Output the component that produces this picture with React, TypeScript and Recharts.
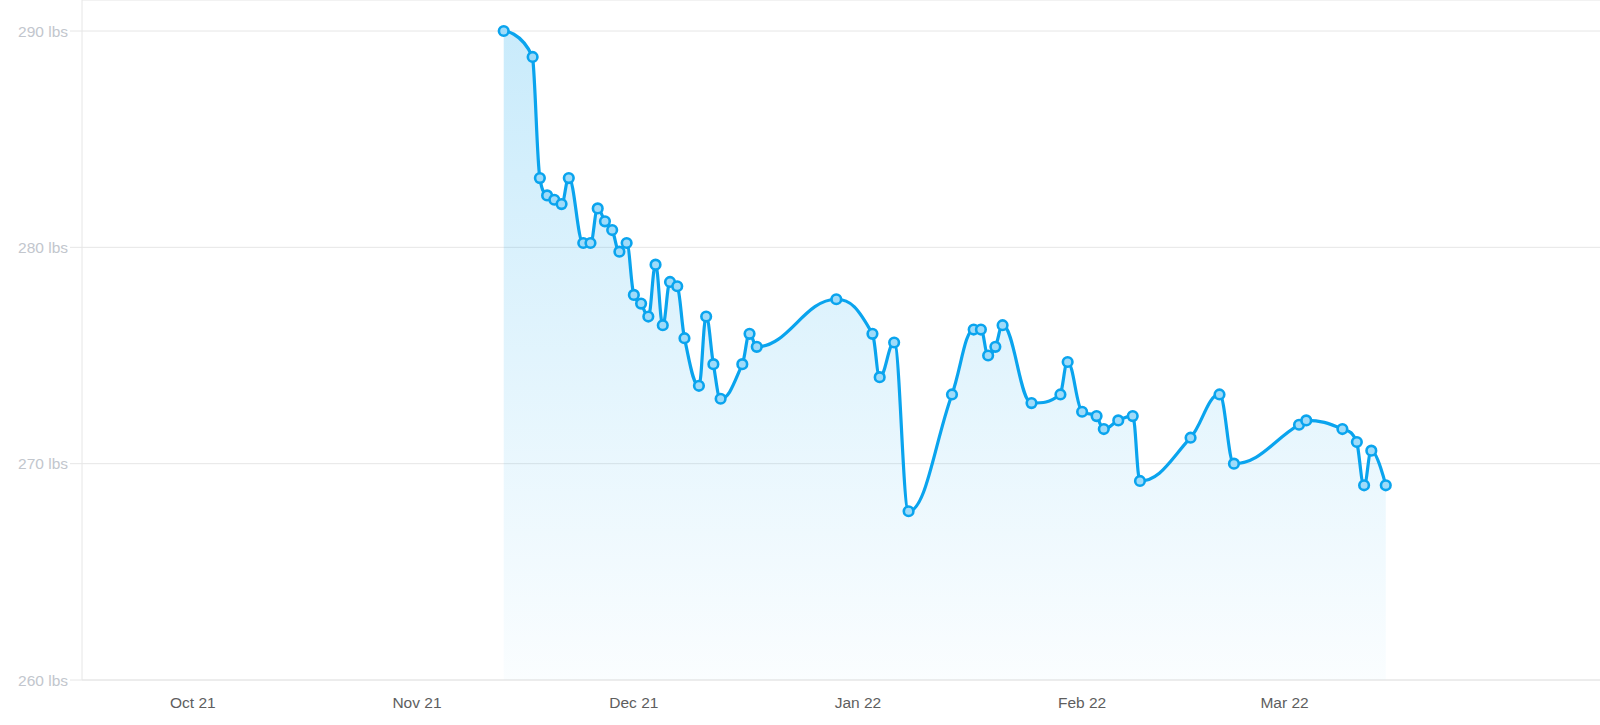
import React from "react";
import { AreaChart, Area, XAxis, YAxis, CartesianGrid } from "recharts";

// ---- data ----
const dates: string[] = [
  "2021-11-13", "2021-11-17", "2021-11-18", "2021-11-19", "2021-11-20", "2021-11-21", "2021-11-22",
  "2021-11-24", "2021-11-25", "2021-11-26", "2021-11-27", "2021-11-28", "2021-11-29", "2021-11-30",
  "2021-12-01", "2021-12-02", "2021-12-03", "2021-12-04", "2021-12-05", "2021-12-06", "2021-12-07",
  "2021-12-08", "2021-12-10", "2021-12-11", "2021-12-12", "2021-12-13", "2021-12-16", "2021-12-17",
  "2021-12-18", "2021-12-29", "2022-01-03", "2022-01-04", "2022-01-06", "2022-01-08", "2022-01-14",
  "2022-01-17", "2022-01-18", "2022-01-19", "2022-01-20", "2022-01-21", "2022-01-25", "2022-01-29",
  "2022-01-30", "2022-02-01", "2022-02-03", "2022-02-04", "2022-02-06", "2022-02-08", "2022-02-09",
  "2022-02-16", "2022-02-20", "2022-02-22", "2022-03-03", "2022-03-04", "2022-03-09", "2022-03-11",
  "2022-03-12", "2022-03-13", "2022-03-15",
];

const weights: number[] = [
  290.0, 288.8, 283.2, 282.4, 282.2, 282.0, 283.2,
  280.2, 280.2, 281.8, 281.2, 280.8, 279.8, 280.2,
  277.8, 277.4, 276.8, 279.2, 276.4, 278.4, 278.2,
  275.8, 273.6, 276.8, 274.6, 273.0, 274.6, 276.0,
  275.4, 277.6, 276.0, 274.0, 275.6, 267.8, 273.2,
  276.2, 276.2, 275.0, 275.4, 276.4, 272.8, 273.2,
  274.7, 272.4, 272.2, 271.6, 272.0, 272.2, 269.2,
  271.2, 273.2, 270.0, 271.8, 272.0, 271.6, 271.0,
  269.0, 270.6, 269.0,
];

const xTickDates: string[] = ["2021-10-01", "2021-11-01", "2021-12-01", "2022-01-01", "2022-02-01", "2022-03-01"];
const xTickLabels: string[] = ["Oct 21", "Nov 21", "Dec 21", "Jan 22", "Feb 22", "Mar 22"];
const yTicks: number[] = [260, 270, 280, 290];

// ---- helpers ----
const DAY = 86400000;
const toTs = (s: string) => {
  const [y, m, d] = s.split("-").map(Number);
  return Date.UTC(y, m - 1, d);
};

const chartData = dates.map((d, i) => ({ t: toTs(d), w: weights[i] }));
const xTicks = xTickDates.map(toTs);
const xStart = toTs("2021-10-01") - 15.33 * DAY;
const xEnd = toTs("2021-10-01") + 194.63 * DAY;

// Highcharts-style spline curve factory
function hcSpline(context: any) {
  let xs: number[] = [];
  let ys: number[] = [];
  let line: number = NaN;
  return {
    areaStart() {
      line = 0;
    },
    areaEnd() {
      line = NaN;
    },
    lineStart() {
      xs = [];
      ys = [];
    },
    lineEnd() {
      const n = xs.length;
      if (n) {
        if (line) context.lineTo(xs[0], ys[0]);
        else context.moveTo(xs[0], ys[0]);
        const lc: number[][] = [];
        const rc: number[][] = [];
        const smoothing = 1.5;
        const denom = smoothing + 1;
        for (let i = 0; i < n; i++) {
          const px = xs[i];
          const py = ys[i];
          if (i > 0 && i < n - 1) {
            const lastX = xs[i - 1], lastY = ys[i - 1], nextX = xs[i + 1], nextY = ys[i + 1];
            const leftContX = (smoothing * px + lastX) / denom;
            let leftContY = (smoothing * py + lastY) / denom;
            const rightContX = (smoothing * px + nextX) / denom;
            let rightContY = (smoothing * py + nextY) / denom;
            let correction = 0;
            if (rightContX !== leftContX) {
              correction = ((rightContY - leftContY) * (rightContX - px)) / (rightContX - leftContX) + py - rightContY;
            }
            leftContY += correction;
            rightContY += correction;
            if (leftContY > lastY && leftContY > py) {
              leftContY = Math.max(lastY, py);
              rightContY = 2 * py - leftContY;
            } else if (leftContY < lastY && leftContY < py) {
              leftContY = Math.min(lastY, py);
              rightContY = 2 * py - leftContY;
            }
            if (rightContY > nextY && rightContY > py) {
              rightContY = Math.max(nextY, py);
              leftContY = 2 * py - rightContY;
            } else if (rightContY < nextY && rightContY < py) {
              rightContY = Math.min(nextY, py);
              leftContY = 2 * py - rightContY;
            }
            lc[i] = [leftContX, leftContY];
            rc[i] = [rightContX, rightContY];
          } else {
            lc[i] = [px, py];
            rc[i] = [px, py];
          }
        }
        for (let i = 1; i < n; i++) {
          context.bezierCurveTo(rc[i - 1][0], rc[i - 1][1], lc[i][0], lc[i][1], xs[i], ys[i]);
        }
      }
      if (line || (line !== 0 && n === 1)) context.closePath();
      line = 1 - line;
    },
    point(x: number, y: number) {
      xs.push(+x);
      ys.push(+y);
    },
  };
}

const LINE = "#0aa4ee";
const FONT = "'Liberation Sans', Arial, Helvetica, sans-serif";

export default function App() {
  return (
    <div style={{ position: "absolute", left: 0, top: 0, width: 1600, height: 725, background: "#fff" }}>
      <AreaChart width={1600} height={725} data={chartData} margin={{ top: 0, right: 0, bottom: 0, left: 0 }}>
        <defs>
          <linearGradient id="wFill" x1="0" y1="0" x2="0" y2="1">
            <stop offset="0%" stopColor={LINE} stopOpacity={0.22} />
            <stop offset="100%" stopColor={LINE} stopOpacity={0.02} />
          </linearGradient>
        </defs>
        <CartesianGrid horizontal vertical={false} stroke="#e6e6e6" strokeWidth={1} />
        <XAxis
          dataKey="t"
          type="number"
          domain={[xStart, xEnd]}
          allowDataOverflow
          ticks={xTicks}
          tickFormatter={(v: number) => {
            const i = xTicks.indexOf(v);
            return i >= 0 ? xTickLabels[i] : "";
          }}
          height={45}
          tickLine={false}
          tickSize={0}
          tickMargin={16.5}
          axisLine={{ stroke: "#e6e6e6" }}
          tick={{ fill: "#5e5e5e", fontSize: 15.5, fontFamily: FONT }}
          interval={0}
        />
        <YAxis
          type="number"
          domain={[260, 291.433]}
          allowDataOverflow
          ticks={yTicks}
          tickFormatter={(v: number) => `${v} lbs`}
          width={82}
          tickSize={12}
          tickMargin={2}
          tickLine={{ stroke: "#e6e6e6" }}
          axisLine={{ stroke: "#e6e6e6" }}
          tick={{ fill: "#c2c6cd", fontSize: 15.5, fontFamily: FONT }}
          interval={0}
        />
        <Area
          dataKey="w"
          type={hcSpline as any}
          stroke={LINE}
          strokeWidth={3.2}
          fill="url(#wFill)"
          fillOpacity={1}
          dot={{ r: 4.8, fill: "#9fdbf9", stroke: LINE, strokeWidth: 2.6 }}
          activeDot={false}
          isAnimationActive={false}
        />
      </AreaChart>
    </div>
  );
}
